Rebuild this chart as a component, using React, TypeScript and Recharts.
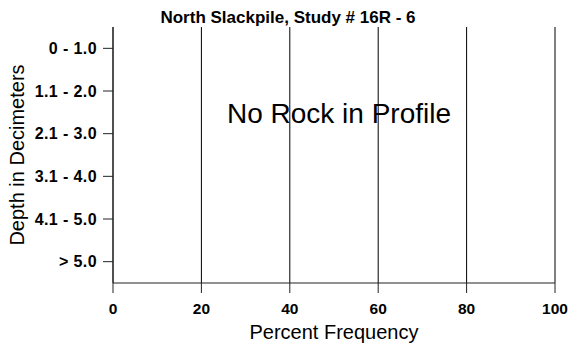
import React from "react";
import { BarChart, Bar, XAxis, YAxis, CartesianGrid } from "recharts";

// depth classes, top to bottom
const depthClasses = ["0 - 1.0", "1.1 - 2.0", "2.1 - 3.0", "3.1 - 4.0", "4.1 - 5.0", "> 5.0"];
// percent frequency of rock per depth class (none found)
const rockFrequency = [0, 0, 0, 0, 0, 0];
const xTicks = [0, 20, 40, 60, 80, 100];

const data = depthClasses.map((d, i) => ({ depth: d, freq: rockFrequency[i] }));

const FONT = "Arial, 'Liberation Sans', Helvetica, sans-serif";
const INK = "#000";
const AXIS = "#222";

export default function App() {
  return (
    <div style={{ position: "absolute", left: 0, top: 0, width: 570, height: 350, background: "#fff", fontFamily: FONT }}>
      <BarChart
        width={570}
        height={350}
        data={data}
        layout="vertical"
        margin={{ top: 27, right: 15, left: 18, bottom: 7 }}
      >
        <CartesianGrid horizontal={false} stroke={INK} strokeWidth={1} />
        <XAxis
          type="number"
          domain={[0, 100]}
          ticks={xTicks}
          height={60}
          tickSize={10}
          tickMargin={10}
          axisLine={{ stroke: AXIS }}
          tickLine={{ stroke: AXIS }}
          tick={{ fontFamily: FONT, fontSize: 15.5, fontWeight: "bold", fill: INK }}
        />
        <YAxis
          type="category"
          dataKey="depth"
          width={95}
          tickSize={10}
          tickMargin={6}
          axisLine={{ stroke: AXIS }}
          tickLine={{ stroke: AXIS }}
          tick={{ fontFamily: FONT, fontSize: 16, fontWeight: "bold", fill: INK, letterSpacing: 0.4 }}
        />
        <Bar dataKey="freq" fill="#888" isAnimationActive={false} />
        <text x={288} y={23} textAnchor="middle" fontFamily={FONT} fontSize={17} fontWeight="bold" fill={INK}>
          North Slackpile, Study # 16R - 6
        </text>
        <text x={339} y={123} textAnchor="middle" fontFamily={FONT} fontSize={28} fill={INK}>
          No Rock in Profile
        </text>
        <text x={334} y={339} textAnchor="middle" fontFamily={FONT} fontSize={20} fill={INK}>
          Percent Frequency
        </text>
        <text x={24} y={155} transform="rotate(-90 24 155)" textAnchor="middle" fontFamily={FONT} fontSize={20} fill={INK}>
          Depth in Decimeters
        </text>
      </BarChart>
    </div>
  );
}
